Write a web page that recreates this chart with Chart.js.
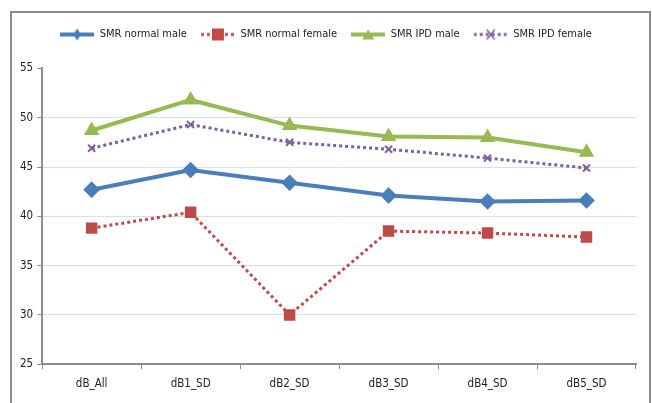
<!DOCTYPE html>
<html lang="en">
<head>
    <meta charset="UTF-8">
    <title>SMR</title>
    <style>
        body { margin: 0; background: #fff; }
        #frame { position: absolute; left: 10px; top: 11px; width: 637px; height: 420px; border: 2px solid #8c8c8c; }
        #wrap { position: absolute; left: 0; top: 0; width: 652px; height: 403px; }
    </style>
</head>
<body>
    <div id="frame"></div>
    <div id="wrap"><canvas id="myChart" width="652" height="403"></canvas></div>
<script src="https://cdn.jsdelivr.net/npm/chart.js"></script>
<script>
    const labels = ['dB_All', 'dB1_SD', 'dB2_SD', 'dB3_SD', 'dB4_SD', 'dB5_SD'];
    const normalMale = [42.7, 44.7, 43.4, 42.1, 41.5, 41.6];
    const normalFemale = [38.8, 40.4, 30.0, 38.5, 38.3, 37.9];
    const ipdMale = [48.7, 51.8, 49.2, 48.1, 48.0, 46.5];
    const ipdFemale = [46.9, 49.3, 47.5, 46.8, 45.9, 44.9];
    const yTicks = [25, 30, 35, 40, 45, 50, 55];

    const fontName = "'DejaVu Sans Condensed', 'Liberation Sans Narrow', 'Liberation Sans', sans-serif";

    // little legend swatches: line + marker
    function swatch(color, dotted, marker) {
        var c = document.createElement('canvas');
        c.width = 34; c.height = 14;
        var g = c.getContext('2d');
        g.strokeStyle = color; g.fillStyle = color;
        g.lineWidth = dotted ? 3 : 4;
        if (dotted) g.setLineDash([3, 3]);
        g.beginPath(); g.moveTo(0, 7); g.lineTo(34, 7); g.stroke();
        g.setLineDash([]);
        g.beginPath();
        if (marker == 'diamond') { g.moveTo(17, 1); g.lineTo(21, 7); g.lineTo(17, 13); g.lineTo(13, 7); g.fill(); }
        if (marker == 'square') { g.fillRect(11, 1, 12, 12); }
        if (marker == 'triangle') { g.moveTo(17, 2); g.lineTo(23, 12); g.lineTo(11, 12); g.fill(); }
        if (marker == 'cross') { g.lineWidth = 1.5; g.moveTo(13, 2); g.lineTo(21, 12); g.moveTo(21, 2); g.lineTo(13, 12); g.stroke(); }
        return c;
    }

    const data = {
        labels: labels,
        datasets: [{
            label: 'SMR normal male',
            data: normalMale,
            borderColor: '#4a7ebb',
            backgroundColor: '#4a7ebb',
            borderWidth: 4,
            pointStyle: 'rectRot',
            pointRadius: 5.5,
            legendSwatch: swatch('#4a7ebb', false, 'diamond'),
        }, {
            label: 'SMR normal female',
            data: normalFemale,
            borderColor: '#be4b48',
            backgroundColor: '#be4b48',
            borderWidth: 3,
            borderDash: [3, 3],
            pointStyle: 'rect',
            pointRadius: 6,
            legendSwatch: swatch('#be4b48', true, 'square'),
        }, {
            label: 'SMR IPD male',
            data: ipdMale,
            borderColor: '#98b954',
            backgroundColor: '#98b954',
            borderWidth: 4,
            pointStyle: 'triangle',
            pointRadius: 5,
            legendSwatch: swatch('#98b954', false, 'triangle'),
        }, {
            label: 'SMR IPD female',
            data: ipdFemale,
            borderColor: '#7d60a0',
            backgroundColor: '#7d60a0',
            borderWidth: 3,
            borderDash: [3, 3],
            pointStyle: 'crossRot',
            pointRadius: 5,
            pointBorderWidth: 2,
            legendSwatch: swatch('#7d60a0', true, 'cross'),
        }]
    };

    const config = {
        type: 'line',
        data,
        options: {
            responsive: false,
            animation: false,
            elements: { line: { tension: 0 } },
            layout: { padding: { top: 15, left: 16, right: 16, bottom: 4 } },
            plugins: {
                tooltip: { enabled: false },
                subtitle: {
                    display: true,
                    text: ' ',
                    font: { size: 2 },
                    padding: { top: 0, bottom: 16 },
                },
                legend: {
                    display: true,
                    weight: 3000,
                    labels: {
                        usePointStyle: true,
                        pointStyleWidth: 34,
                        padding: 14,
                        color: '#222',
                        font: { family: fontName, size: 11 },
                        generateLabels: (chart) => chart.data.datasets.map((ds, i) => ({
                            text: ds.label,
                            pointStyle: ds.legendSwatch,
                            fontColor: '#222',
                            datasetIndex: i,
                            hidden: false,
                        })),
                    }
                },
            },
            scales: {
                x: {
                    offset: true,
                    grid: {
                        offset: true,
                        drawOnChartArea: false,
                        tickLength: 5,
                        tickColor: '#8c8c8c',
                    },
                    border: { color: '#8c8c8c', width: 2 },
                    ticks: { color: '#222', font: { family: fontName, size: 11.5 }, padding: 8 },
                },
                y: {
                    min: 25,
                    max: 55,
                    afterBuildTicks: (scale) => { scale.ticks = yTicks.map(v => ({ value: v })); },
                    grid: {
                        color: (ctx) => ctx.tick && (ctx.tick.value == 55 || ctx.tick.value == 25) ? 'rgba(0,0,0,0)' : '#d5deef',
                        tickLength: 5,
                        tickColor: '#8c8c8c',
                    },
                    border: { color: '#8c8c8c', width: 2 },
                    ticks: { color: '#222', font: { family: fontName, size: 11.5 }, padding: 4 },
                },
            }
        }
    };

    var myChart = new Chart(document.getElementById('myChart'), config);
</script>
</body>
</html>
